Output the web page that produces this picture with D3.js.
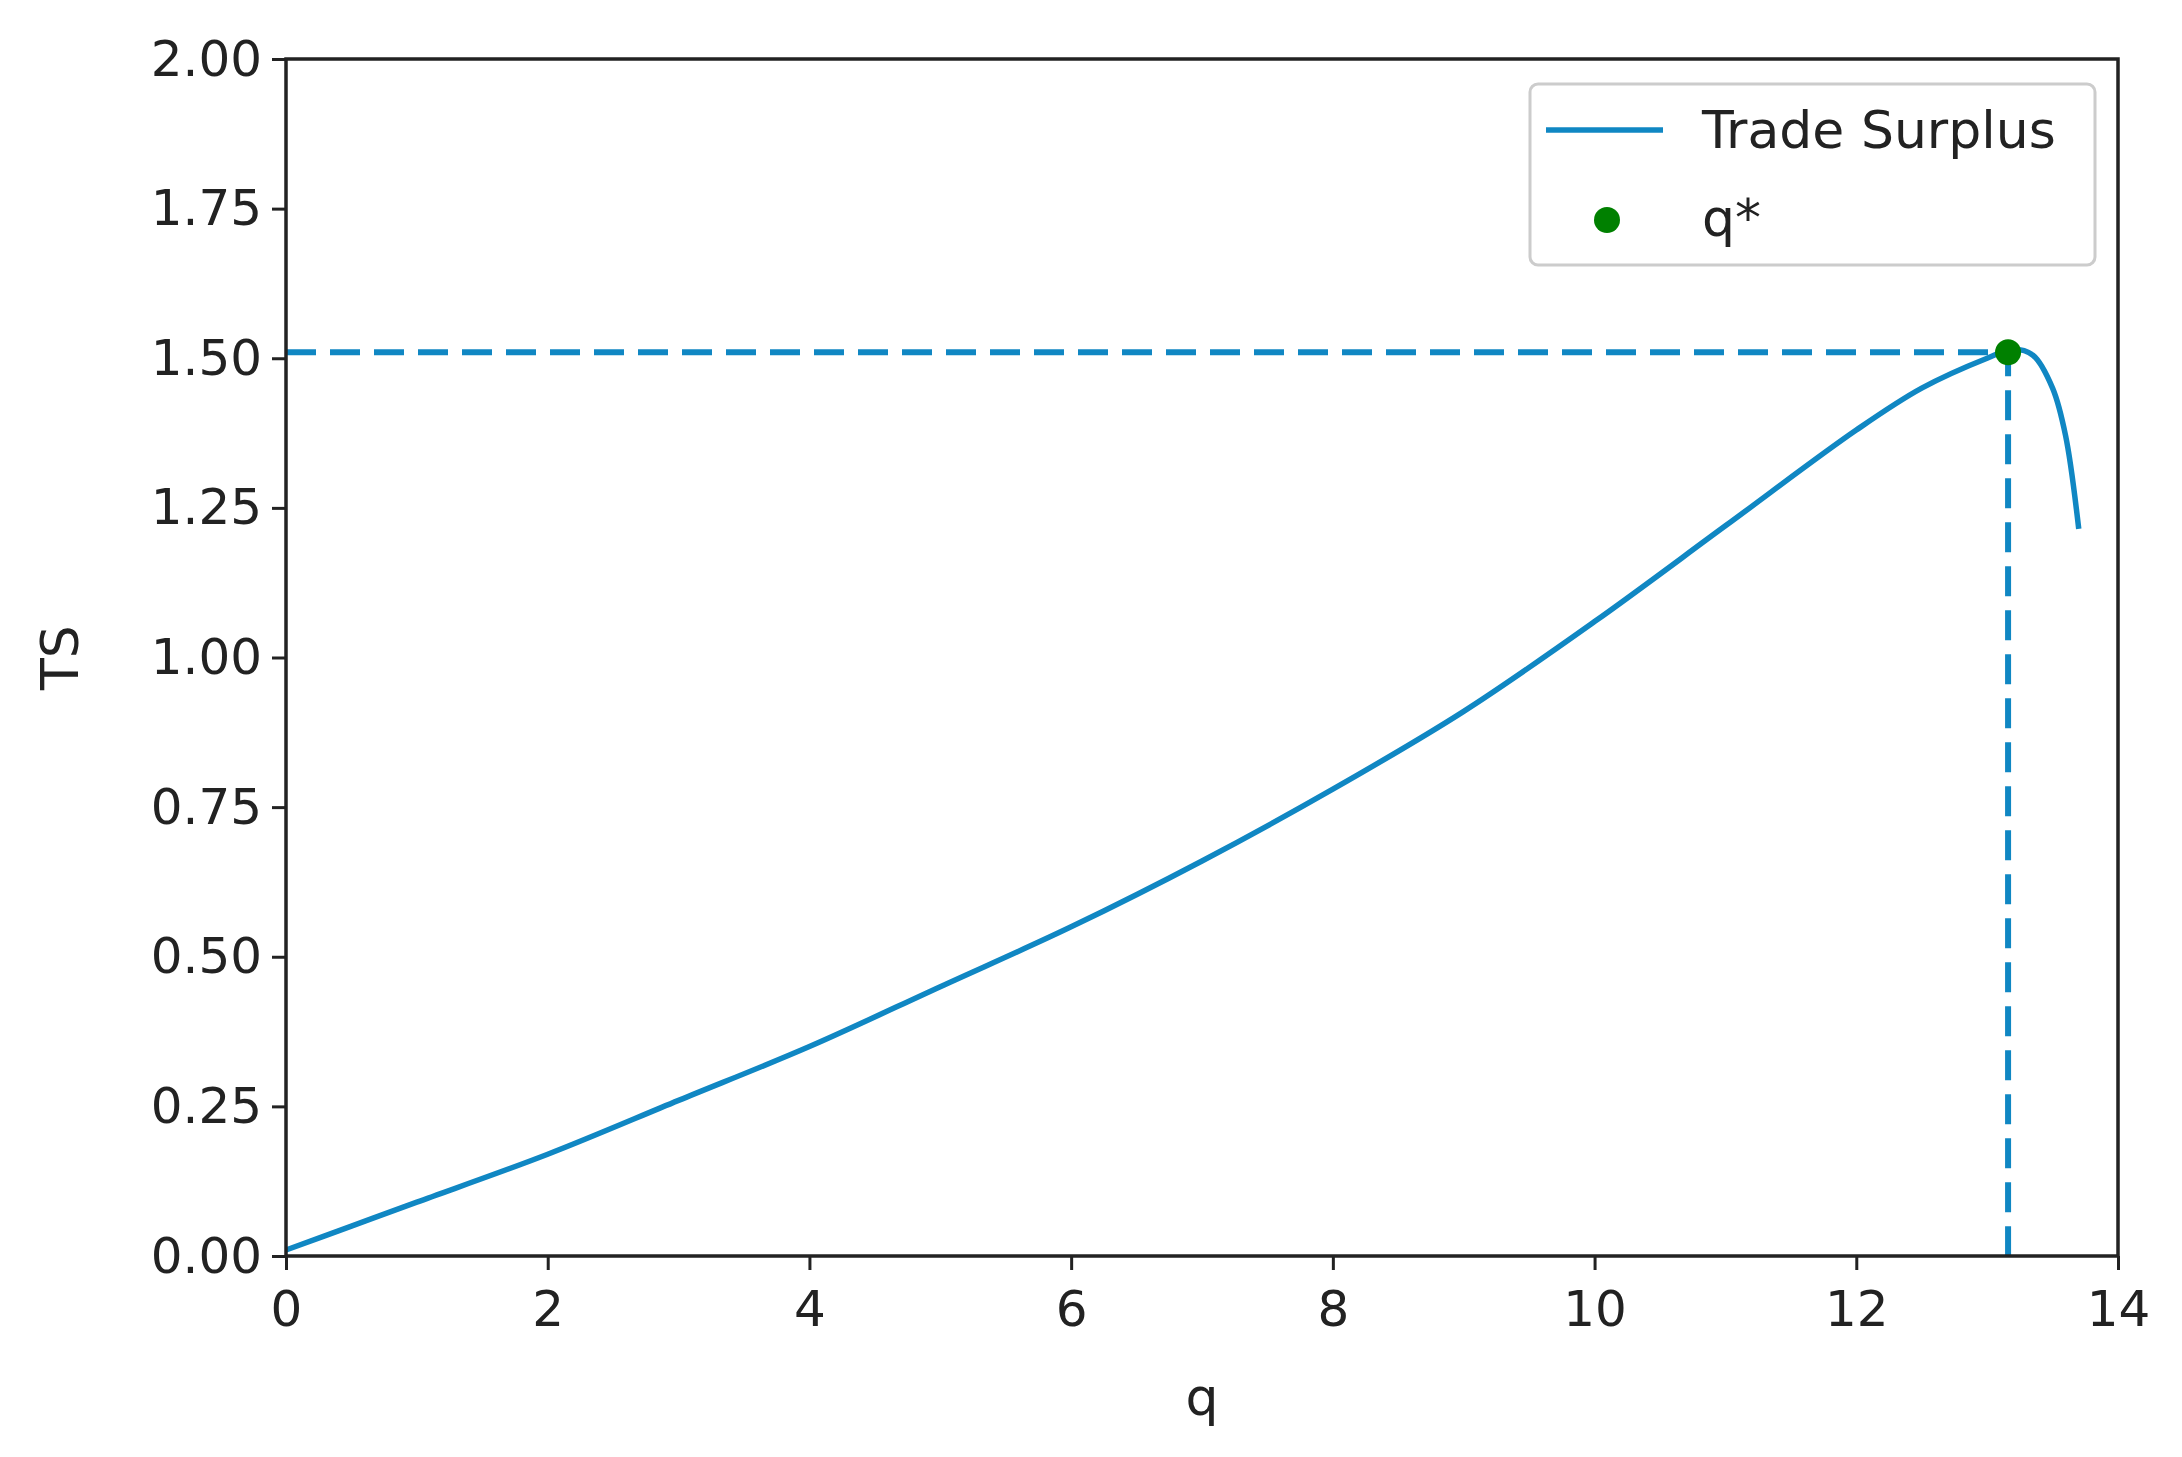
<!DOCTYPE html>
<html><head><meta charset="utf-8">
<script src="https://cdn.jsdelivr.net/npm/d3@7"></script>
<style>body{margin:0;background:#fff}text{font-family:"DejaVu Sans",sans-serif;fill:#222}</style>
</head><body><svg id="c" width="2182" height="1457"></svg>
<script>
const qValues  = [0, 0.5, 1, 2, 3, 4, 5, 6, 7, 8, 9, 10, 11, 12, 12.5, 13, 13.2, 13.35, 13.5, 13.6, 13.7];
const tsValues = [0.01, 0.05, 0.09, 0.17, 0.26, 0.35, 0.45, 0.55, 0.66, 0.78, 0.91, 1.06, 1.22, 1.38, 1.45, 1.50, 1.515, 1.505, 1.45, 1.37, 1.215];
const qStar = 13.16, tsStar = 1.51;
const xTicks = [0,2,4,6,8,10,12,14];
const yTicks = [0,0.25,0.5,0.75,1,1.25,1.5,1.75,2];
const color = "#1087c3";

const svg = d3.select("#c");
const L=286,R=2118,T=59,B=1256;
const x = d3.scaleLinear().domain([0,14]).range([L,R]);
const y = d3.scaleLinear().domain([0,2]).range([B,T]);

svg.append("g").attr("transform",`translate(0,${B})`)
  .call(d3.axisBottom(x).tickValues(xTicks).tickFormat(d3.format("d")).tickSize(14).tickPadding(16))
  .call(g=>{g.select(".domain").remove();g.selectAll("line").attr("stroke","#222").attr("stroke-width",3);g.selectAll("text").attr("font-size",50).attr("dy","0.8em");});
svg.append("g").attr("transform",`translate(${L},0)`)
  .call(d3.axisLeft(y).tickValues(yTicks).tickFormat(d3.format(".2f")).tickSize(14).tickPadding(10))
  .call(g=>{g.select(".domain").remove();g.selectAll("line").attr("stroke","#222").attr("stroke-width",3);g.selectAll("text").attr("font-size",50);});

svg.append("path").attr("fill","none").attr("stroke",color).attr("stroke-width",6).attr("stroke-dasharray","30 14")
  .attr("d",`M${x(0)},${y(tsStar)}H${x(qStar)}V${y(0)}`);
const pts = qValues.map((q,i)=>[q,tsValues[i]]);
svg.append("path").datum(pts).attr("fill","none").attr("stroke",color).attr("stroke-width",5.5)
  .attr("d",d3.line().x(d=>x(d[0])).y(d=>y(d[1])).curve(d3.curveCatmullRom));
svg.append("circle").attr("cx",x(qStar)).attr("cy",y(tsStar)).attr("r",13).attr("fill","#008000");

svg.append("rect").attr("x",L).attr("y",T).attr("width",R-L).attr("height",B-T).attr("fill","none").attr("stroke","#222").attr("stroke-width",3.5);

const lg = svg.append("g");
lg.append("rect").attr("x",1530).attr("y",84).attr("width",565).attr("height",181).attr("rx",8).attr("fill","#fff").attr("stroke","#ccc").attr("stroke-width",3);
lg.append("line").attr("x1",1546).attr("x2",1663).attr("y1",130).attr("y2",130).attr("stroke",color).attr("stroke-width",5.5);
lg.append("text").attr("x",1702).attr("y",148).attr("font-size",52).text("Trade Surplus");
lg.append("circle").attr("cx",1607).attr("cy",220).attr("r",13).attr("fill","#008000");
lg.append("text").attr("x",1702).attr("y",236).attr("font-size",52).text("q*");

svg.append("text").attr("x",(L+R)/2).attr("y",1415).attr("text-anchor","middle").attr("font-size",52).text("q");
svg.append("text").attr("transform",`translate(78,${(T+B)/2}) rotate(-90)`).attr("text-anchor","middle").attr("font-size",52).text("TS");
</script></body></html>
